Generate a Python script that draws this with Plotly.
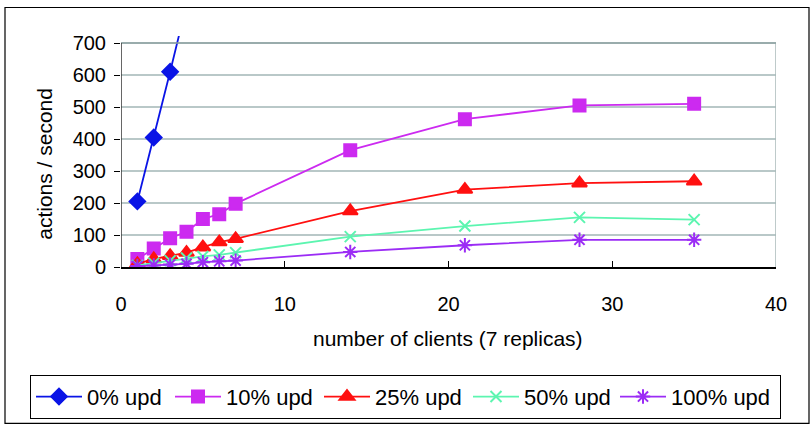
import plotly.graph_objects as go

x_small = [1, 2, 3, 4]
x_full = [1, 2, 3, 4, 5, 6, 7, 14, 21, 28, 35]

upd0 = [205, 405, 610, 820]
upd10 = [25, 58, 90, 110, 150, 165, 198, 365, 462, 505, 510]
upd25 = [10, 25, 35, 45, 62, 78, 88, 175, 242, 262, 268]
upd50 = [5, 12, 20, 28, 33, 38, 45, 95, 128, 155, 148]
upd100 = [3, 5, 8, 10, 15, 18, 20, 47, 68, 85, 85]

names = ["0% upd", "10% upd", "25% upd", "50% upd", "100% upd"]
y_ticks = [0, 100, 200, 300, 400, 500, 600, 700]
x_ticks = [0, 10, 20, 30, 40]

FONT = "Liberation Sans, Arial, sans-serif"

fig = go.Figure()
series = [
    (x_small, upd0, names[0], "#0a14e6", "diamond", 12, 78),
    (x_full, upd10, names[1], "#cc2af0", "square", 12, 88),
    (x_full, upd25, names[2], "#ff1010", "triangle-up", 13, 88),
    (x_full, upd50, names[3], "#5cf5b0", "x-thin-open", 11, 86),
    (x_full, upd100, names[4], "#9b2cf5", "asterisk-open", 12, 104),
]
for xs, ys, nm, col, sym, sz, lw in series:
    fig.add_trace(go.Scatter(
        x=xs, y=ys, name=nm, mode="lines+markers",
        line=dict(color=col, width=1.8),
        marker=dict(symbol=sym, size=sz, color=col, line=dict(color=col, width=2)),
        legendwidth=lw,
    ))

L, R, T, B = 121, 776, 36, 271
W, H = 810, 431
def px(xp):
    return (xp - L) / (R - L)
def py(yp):
    return (B - yp) / (B - T)

fig.update_layout(
    width=W, height=H,
    margin=dict(l=L, r=W - R, t=T, b=H - B),
    paper_bgcolor="white", plot_bgcolor="white",
    font=dict(family=FONT, size=21, color="black"),
    showlegend=True,
    legend=dict(
        orientation="h", x=px(30), xanchor="left", y=py(403), yanchor="middle",
        bordercolor="black", borderwidth=1, font=dict(size=22),
        itemwidth=46, bgcolor="rgba(0,0,0,0)",
    ),
    xaxis=dict(
        range=[0, 40], tickvals=x_ticks, ticks="inside", ticklen=6,
        tickcolor="black", showline=True, linecolor="black", linewidth=1.5,
        showgrid=False, zeroline=False, ticklabelstandoff=18,
        tickfont=dict(size=20),
    ),
    yaxis=dict(
        range=[0, 722], tickvals=y_ticks, ticks="outside", ticklen=6,
        tickcolor="black", showline=False, showgrid=True,
        gridcolor="#b9c8c8", gridwidth=1.5, zeroline=False,
        ticklabelstandoff=4, tickfont=dict(size=20),
    ),
    annotations=[
        dict(text="actions / second", xref="paper", yref="paper",
             x=px(45), y=py(166), textangle=-90, showarrow=False,
             font=dict(size=21), xanchor="center", yanchor="middle"),
        dict(text="number of clients (7 replicas)", xref="paper", yref="paper",
             x=px(448), y=py(344), showarrow=False,
             font=dict(size=21), xanchor="center", yanchor="middle"),
    ],
    shapes=[
        dict(type="line", xref="x", yref="y", x0=40, x1=40, y0=0, y1=700,
             line=dict(color="#a8b8b8", width=1.5)),
        dict(type="line", xref="x", yref="y", x0=0, x1=40, y0=700, y1=700,
             line=dict(color="#8fa3a3", width=1.5)),
        dict(type="line", xref="x", yref="y", x0=0, x1=0, y0=0, y1=700,
             line=dict(color="#333333", width=1.5)),
        dict(type="rect", xref="paper", yref="paper",
             x0=px(5), x1=px(809), y0=py(430), y1=py(7),
             line=dict(color="black", width=1.2), fillcolor="rgba(0,0,0,0)"),
    ],
)

fig.write_html("out.html", config={"displayModeBar": False},
               post_script="document.body.style.margin='0';")
